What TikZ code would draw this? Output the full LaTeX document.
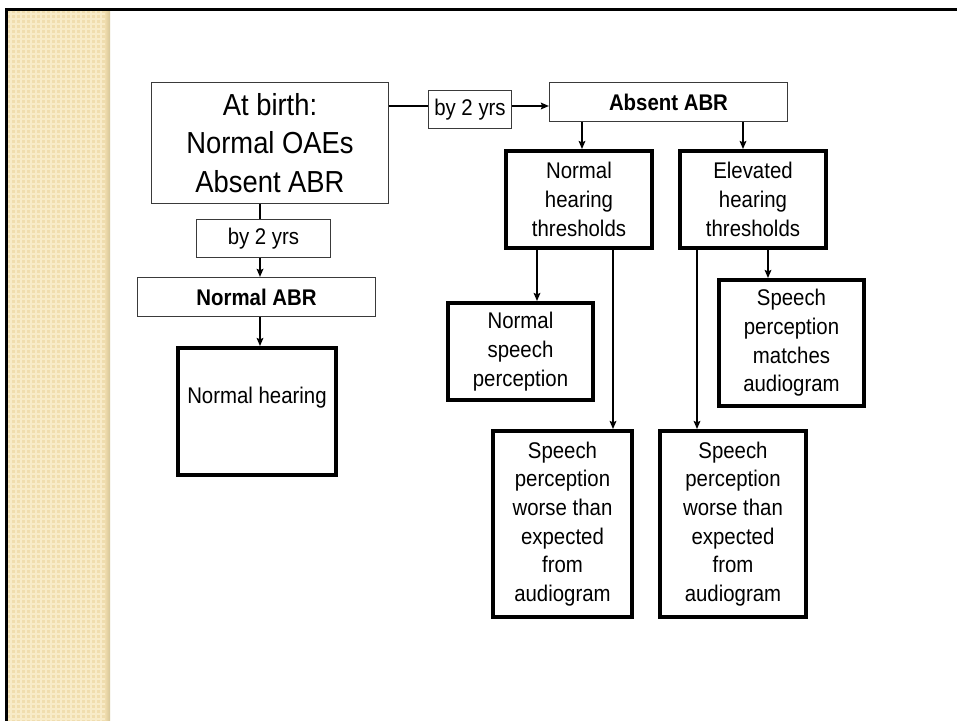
\documentclass[tikz,border=0pt]{standalone}
\usepackage{fontspec}
\setmainfont{Liberation Sans}[FakeStretch=0.9]
\usetikzlibrary{arrows.meta}
\definecolor{stripbase}{HTML}{F0DDAE}
\definecolor{stripgrid}{HTML}{F8EBC8}
\definecolor{stripedge}{HTML}{D6C597}
\definecolor{thinline}{HTML}{3A3A3A}
\tikzset{
  thinbox/.style={draw=thinline, line width=0.9pt, inner sep=0pt, align=center,
    font=\fontsize{17}{21.5}\selectfont},
  thickbox/.style={draw=black, line width=3pt, inner sep=0pt, align=center,
    font=\fontsize{17}{21.5}\selectfont},
  bigtext/.style={font=\fontsize{22.8}{28.7}\selectfont},
  boldtext/.style={font=\fontsize{17}{21.5}\selectfont\bfseries},
  conn/.style={draw=black, line width=1.5pt},
  connarrow/.style={conn, -{Stealth[length=6pt,width=5pt,inset=1pt]}},
  hconn/.style={draw=black, line width=2pt},
  hconnarrow/.style={hconn, -{Stealth[length=6pt,width=5pt,inset=1pt]}},
  gridl/.style={draw=stripgrid, line width=1.1pt},
}
\begin{document}
\begin{tikzpicture}[x=0.75pt, y=-0.75pt]
\useasboundingbox[fill=white] (0,0) rectangle (957,721);
% left decorative strip
\fill[stripbase] (8,11) rectangle (110,721);
\foreach \x in {11,16,...,106} \draw[gridl] (\x,11) -- (\x,721);
\foreach \y in {14,19,...,719} \draw[gridl] (8,\y) -- (108,\y);
\shade[left color=stripbase, right color=stripedge] (105,11) rectangle (110,721);
% frame lines
\fill[black] (5,8) rectangle (957,11);
\fill[black] (5,8) rectangle (8,721);

% nodes
\node[thinbox, minimum width=237*0.75pt, minimum height=121*0.75pt, bigtext]
  (birth) at (270,143) {At birth:\\Normal OAEs\\Absent ABR};
\node[thinbox, minimum width=83*0.75pt, minimum height=38*0.75pt]
  (by1) at (470,109.5) {by 2 yrs};
\node[thinbox, minimum width=238*0.75pt, minimum height=39*0.75pt, boldtext]
  (absent) at (668.5,102) {Absent ABR};
\node[thinbox, minimum width=134*0.75pt, minimum height=38*0.75pt]
  (by2) at (263.5,238.5) {by 2 yrs};
\node[thinbox, minimum width=238*0.75pt, minimum height=39*0.75pt, boldtext]
  (nabr) at (256.5,297) {Normal ABR};
\node[thickbox, minimum width=158*0.75pt, minimum height=127*0.75pt]
  (nhear) at (257,411.5) {};
\node[font=\fontsize{17}{21.5}\selectfont, inner sep=0pt]
  (nheartext) at (257,398) {Normal hearing};
\node[thickbox, minimum width=146*0.75pt, minimum height=97*0.75pt]
  (nht) at (579,199.5) {Normal\\hearing\\thresholds};
\node[thickbox, minimum width=146*0.75pt, minimum height=97*0.75pt]
  (eht) at (753,199.5) {Elevated\\hearing\\thresholds};
\node[thickbox, minimum width=145*0.75pt, minimum height=97*0.75pt]
  (nsp) at (520.5,351.5) {Normal\\speech\\perception};
\node[thickbox, minimum width=145*0.75pt, minimum height=126*0.75pt]
  (spm) at (791.5,343) {Speech\\perception\\matches\\audiogram};
\node[thickbox, minimum width=139*0.75pt, minimum height=186*0.75pt]
  (sw1) at (562.5,524) {Speech\\perception\\worse than\\expected\\from\\audiogram};
\node[thickbox, minimum width=146*0.75pt, minimum height=186*0.75pt]
  (sw2) at (733,524) {Speech\\perception\\worse than\\expected\\from\\audiogram};

% helper coordinates for connector positions
\coordinate (hy) at (0,106);
\coordinate (lx) at (260,0);
\coordinate (ax1) at (582,0);
\coordinate (ax2) at (743,0);
\coordinate (nx1) at (537,0);
\coordinate (nx2) at (613,0);
\coordinate (ex1) at (697,0);
\coordinate (ex2) at (768,0);

% connectors
\draw[hconn] (birth.east |- hy) -- (by1.west |- hy);
\draw[hconnarrow] (by1.east |- hy) -- (absent.west |- hy);
\draw[conn] (birth.south -| lx) -- (by2.north -| lx);
\draw[connarrow] (by2.south -| lx) -- (nabr.north -| lx);
\draw[connarrow] (nabr.south -| lx) -- (nhear.north -| lx);
\draw[connarrow] (absent.south -| ax1) -- (nht.north -| ax1);
\draw[connarrow] (absent.south -| ax2) -- (eht.north -| ax2);
\draw[connarrow] (nht.south -| nx1) -- (nsp.north -| nx1);
\draw[connarrow] (nht.south -| nx2) -- (sw1.north -| nx2);
\draw[connarrow] (eht.south -| ex1) -- (sw2.north -| ex1);
\draw[connarrow] (eht.south -| ex2) -- (spm.north -| ex2);
\end{tikzpicture}
\end{document}
